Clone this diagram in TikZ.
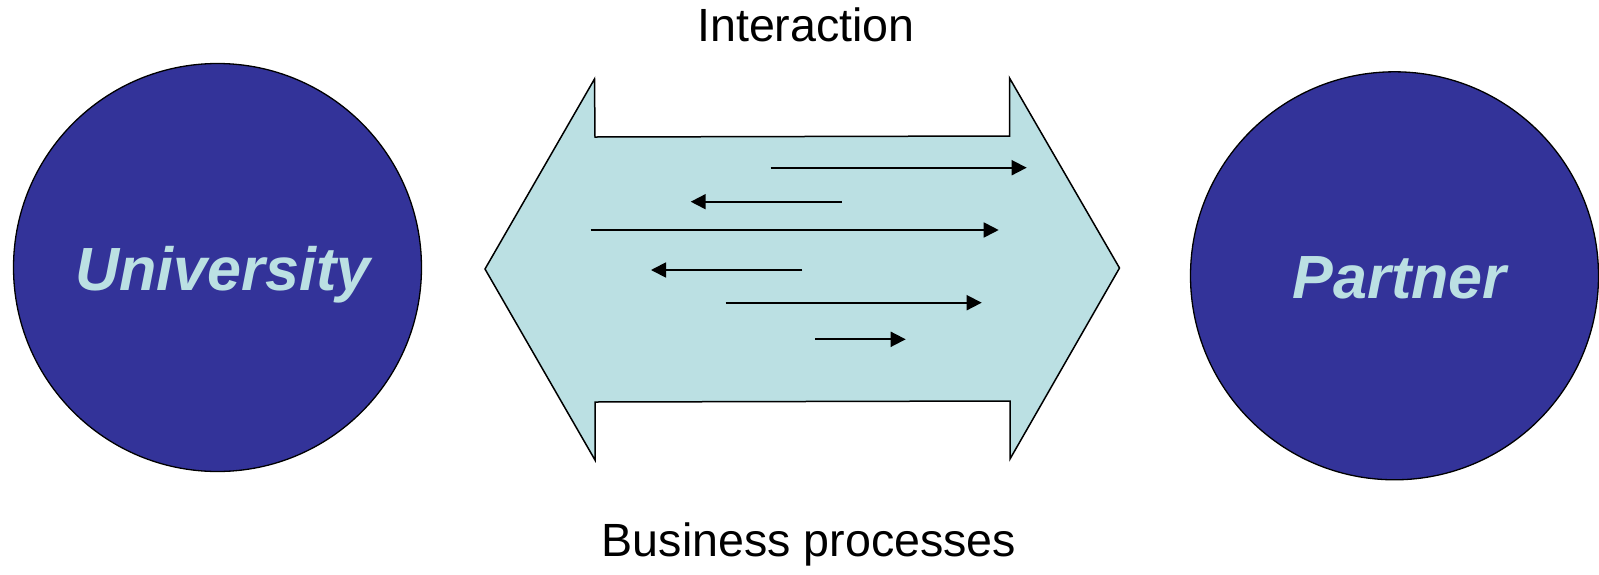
\documentclass[tikz,border=0pt]{standalone}
\usepackage{fontspec}
\setmainfont{Liberation Sans}
\usetikzlibrary{arrows.meta}
\definecolor{discblue}{HTML}{333399}
\definecolor{palecyan}{HTML}{BBE0E3}
\tikzset{
  party/.style={circle, draw=black, line width=1.3pt, fill=discblue,
    minimum size=408pt, inner sep=0pt},
  partytext/.style={anchor=base, inner sep=0pt, text=palecyan,
    font=\fontsize{61}{61}\selectfont\bfseries\itshape},
  caption/.style={anchor=base, inner sep=0pt,
    font=\fontsize{46.6}{46.6}\selectfont},
  flow/.style={draw=black, line width=1.8pt,
    -{Triangle[length=15pt, width=15pt]}},
}
\begin{document}
\begin{tikzpicture}[x=1pt, y=-1pt]
\useasboundingbox (0,0) rectangle (1599,574);

% the two parties
\node[party] (uni) at (217.5,267.5) {};
\node[party] (partner) at (1394.5,275.8) {};
\node[partytext] (unitext) at (223,290.7) {University};
\node[partytext] (partnertext) at (1399.7,298.3) {Partner};

% broad two-headed arrow between them
\draw[fill=palecyan, line width=1.5pt, line join=miter]
  (485,269) -- (594.5,79) -- (595,137) -- (1009.5,136) -- (1009.5,78)
  -- (1119.5,268) -- (1010,459) -- (1010,401) -- (595,402) -- (595,460)
  -- cycle;

% captions
\node[caption] (inter) at (806,41.7) {Interaction};
\node[caption] (biz) at (809,556.7) {Business processes};

% exchanged messages
\coordinate (a1s) at (770.7,167.7);  \coordinate (a1e) at (1026.7,167.7);
\coordinate (a2s) at (841.7,201.7);  \coordinate (a2e) at (690.7,201.7);
\coordinate (a3s) at (590.7,230);    \coordinate (a3e) at (998.7,230);
\coordinate (a4s) at (802.3,270);    \coordinate (a4e) at (651,270);
\coordinate (a5s) at (725.7,302.7);  \coordinate (a5e) at (981.7,302.7);
\coordinate (a6s) at (815,339.3);    \coordinate (a6e) at (905.7,339.3);
\draw[flow] (a1s) -- (a1e);
\draw[flow] (a2s) -- (a2e);
\draw[flow] (a3s) -- (a3e);
\draw[flow] (a4s) -- (a4e);
\draw[flow] (a5s) -- (a5e);
\draw[flow] (a6s) -- (a6e);
\end{tikzpicture}
\end{document}
